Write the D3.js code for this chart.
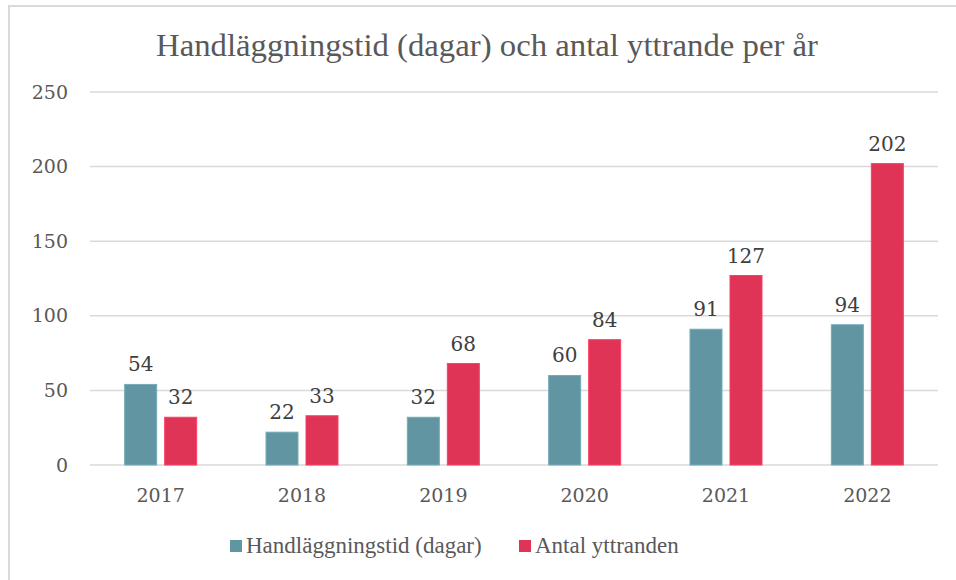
<!DOCTYPE html>
<html>
<head>
<meta charset="utf-8">
<script src="https://cdn.jsdelivr.net/npm/d3@7"></script>
<style>
  body { margin: 0; background: #fff; }
  svg text { font-family: "Liberation Serif", "DejaVu Serif", serif; }
  svg .num { font-family: "DejaVu Serif", serif; }
</style>
</head>
<body>
<svg id="chart" width="956" height="580"></svg>
<script>
// data
var years = ["2017", "2018", "2019", "2020", "2021", "2022"];
var handlaggningstid = [54, 22, 32, 60, 91, 94];
var yttranden = [32, 33, 68, 84, 127, 202];
var yTicks = [0, 50, 100, 150, 200, 250];
var seriesNames = ["Handläggningstid (dagar)", "Antal yttranden"];
var seriesColors = ["#6295a2", "#e03457"];

var svg = d3.select("#chart");

// outer chart border (right and bottom run off the picture)
svg.append("rect")
  .attr("x", 9).attr("y", 6)
  .attr("width", 960).attr("height", 590)
  .attr("fill", "#fff")
  .attr("stroke", "#d9d9d9")
  .attr("stroke-width", 2);

var margin = { top: 92, left: 90, right: 18, bottom: 115 };
var width = 956 - margin.left - margin.right,
    height = 580 - margin.top - margin.bottom;

var g = svg.append("g").attr("transform", "translate(" + margin.left + "," + margin.top + ")");

var x0 = d3.scaleBand().domain(years).range([0, width]).paddingInner(0).paddingOuter(0);
var x1 = d3.scaleBand().domain([0, 1]).range([x0.bandwidth() / 2 - 36, x0.bandwidth() / 2 + 36]).paddingInner(0.2);
var y = d3.scaleLinear().domain([0, 250]).range([height, 0]);

// gridlines
g.append("g")
  .selectAll("line")
  .data(yTicks)
  .enter().append("line")
  .attr("x1", 0).attr("x2", width)
  .attr("y1", function (d) { return y(d); })
  .attr("y2", function (d) { return y(d); })
  .attr("stroke", "#d9d9d9")
  .attr("stroke-width", 1.5);

// y tick labels
var yAxis = g.append("g")
  .attr("class", "Yaxis")
  .call(d3.axisLeft(y).tickValues(yTicks).tickSize(0).tickPadding(22));
yAxis.select(".domain").remove();
yAxis.selectAll("text")
  .attr("class", "num")
  .attr("font-size", 19)
  .attr("fill", "#595959");

// x labels
var xAxis = g.append("g")
  .attr("class", "Xaxis")
  .attr("transform", "translate(0," + height + ")")
  .call(d3.axisBottom(x0).tickSize(0).tickPadding(24));
xAxis.select(".domain").remove();
xAxis.selectAll("text")
  .attr("class", "num")
  .attr("font-size", 19)
  .attr("fill", "#595959");

var rows = years.map(function (yr, i) {
  return { year: yr, values: [handlaggningstid[i], yttranden[i]] };
});

var group = g.append("g")
  .selectAll("g")
  .data(rows)
  .enter().append("g")
  .attr("transform", function (d) { return "translate(" + x0(d.year) + ",0)"; });

group.selectAll("rect")
  .data(function (d) { return d.values.map(function (v, k) { return { k: k, v: v }; }); })
  .enter().append("rect")
  .attr("x", function (d) { return x1(d.k); })
  .attr("y", function (d) { return y(d.v); })
  .attr("width", x1.bandwidth())
  .attr("height", function (d) { return y(0) - y(d.v); })
  .attr("fill", function (d) { return seriesColors[d.k]; })
  .attr("stroke", function (d) { return d3.color(seriesColors[d.k]).brighter(0.4); })
  .attr("stroke-width", 1);

group.selectAll("text.val")
  .data(function (d) { return d.values.map(function (v, k) { return { k: k, v: v }; }); })
  .enter().append("text")
  .attr("class", "val num")
  .attr("x", function (d) { return x1(d.k) + x1.bandwidth() / 2; })
  .attr("y", function (d) { return y(d.v) - 13; })
  .attr("text-anchor", "middle")
  .attr("font-size", 20)
  .attr("fill", "#404040")
  .text(function (d) { return d.v; });

// title
svg.append("text")
  .attr("x", 487).attr("y", 56)
  .attr("text-anchor", "middle")
  .attr("font-size", 31)
  .attr("textLength", 662)
  .attr("lengthAdjust", "spacingAndGlyphs")
  .attr("fill", "#595959")
  .text("Handläggningstid (dagar) och antal yttrande per år");

// legend
var legendX = [230, 519];
var legend = svg.append("g")
  .selectAll("g")
  .data(seriesNames)
  .enter().append("g")
  .attr("transform", function (d, i) { return "translate(" + legendX[i] + ",540)"; });

legend.append("rect")
  .attr("width", 12).attr("height", 12)
  .attr("fill", function (d, i) { return seriesColors[i]; });

legend.append("text")
  .attr("x", 16).attr("y", 13)
  .attr("font-size", 23)
  .attr("fill", "#595959")
  .text(function (d) { return d; });
</script>
</body>
</html>
